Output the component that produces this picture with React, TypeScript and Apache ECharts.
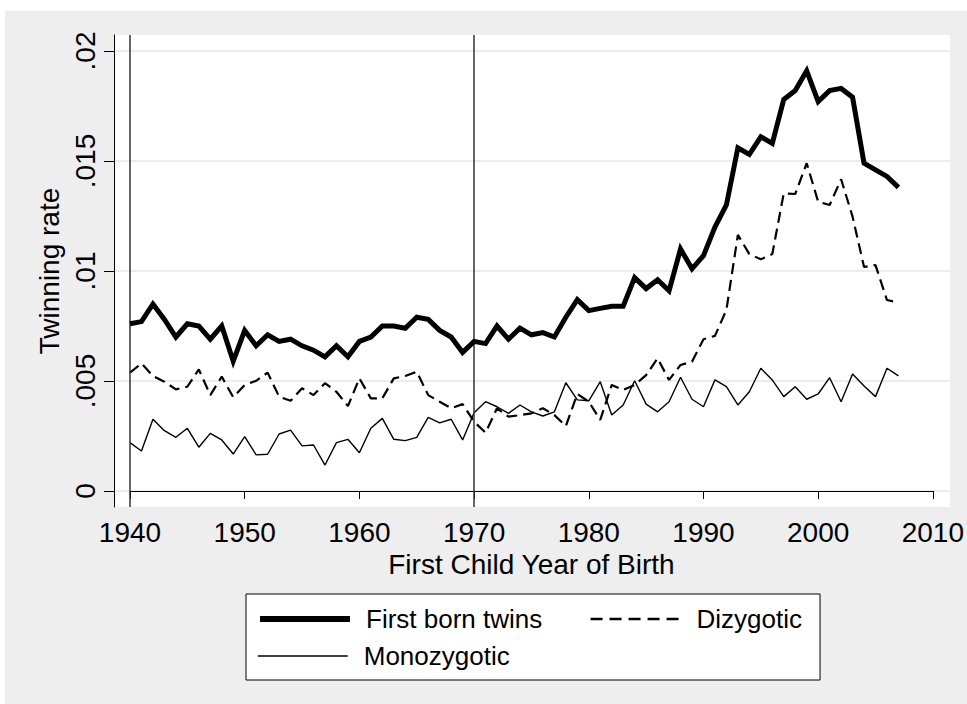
import React, { useEffect, useRef } from "react";
import * as echarts from "echarts";

const years = [
  1940, 1941, 1942, 1943, 1944, 1945, 1946, 1947, 1948, 1949,
  1950, 1951, 1952, 1953, 1954, 1955, 1956, 1957, 1958, 1959,
  1960, 1961, 1962, 1963, 1964, 1965, 1966, 1967, 1968, 1969,
  1970, 1971, 1972, 1973, 1974, 1975, 1976, 1977, 1978, 1979,
  1980, 1981, 1982, 1983, 1984, 1985, 1986, 1987, 1988, 1989,
  1990, 1991, 1992, 1993, 1994, 1995, 1996, 1997, 1998, 1999,
  2000, 2001, 2002, 2003, 2004, 2005, 2006, 2007,
];

const firstBorn = [
  0.0076, 0.0077, 0.0085, 0.0078, 0.007, 0.0076, 0.0075, 0.0069, 0.0075, 0.0059,
  0.0073, 0.0066, 0.0071, 0.0068, 0.0069, 0.0066, 0.0064, 0.0061, 0.0066, 0.0061,
  0.0068, 0.007, 0.0075, 0.0075, 0.0074, 0.0079, 0.0078, 0.0073, 0.007, 0.0063,
  0.0068, 0.0067, 0.0075, 0.0069, 0.0074, 0.0071, 0.0072, 0.007, 0.0079, 0.0087,
  0.0082, 0.0083, 0.0084, 0.0084, 0.0097, 0.0092, 0.0096, 0.0091, 0.011, 0.0101,
  0.0107, 0.012, 0.013, 0.0156, 0.0153, 0.0161, 0.0158, 0.0178, 0.0182, 0.0191,
  0.0177, 0.0182, 0.0183, 0.0179, 0.0149, 0.0146, 0.0143, 0.0138,
];

const dizygotic = [
  0.00538, 0.0058, 0.00523, 0.00497, 0.00462, 0.00474, 0.00553, 0.00436, 0.0052, 0.00426,
  0.00482, 0.00501, 0.00538, 0.00429, 0.0041, 0.00467, 0.00436, 0.0049, 0.00451, 0.00386,
  0.00512, 0.00421, 0.00421, 0.00512, 0.00523, 0.00542, 0.00436, 0.00406, 0.00376, 0.00395,
  0.00315, 0.00265, 0.00376, 0.00338, 0.00345, 0.00353, 0.00376, 0.00345, 0.00295, 0.00441,
  0.00406, 0.00323, 0.00482, 0.00459, 0.00482, 0.00527, 0.00603, 0.00505, 0.00573, 0.00588,
  0.0069, 0.00705, 0.00823, 0.01164, 0.01077, 0.01053, 0.01077, 0.01353, 0.0135, 0.0149,
  0.01315, 0.013, 0.01417, 0.01247, 0.01018, 0.01027, 0.00868, 0.00856,
];

const monozygotic = [
  0.0022, 0.00182, 0.00326, 0.00274, 0.00244, 0.00285, 0.00199, 0.00262, 0.00232, 0.00168,
  0.00247, 0.00164, 0.00167, 0.00259, 0.00277, 0.00205, 0.00209, 0.00118, 0.0022, 0.00235,
  0.00174, 0.00285, 0.0033, 0.00235, 0.00229, 0.00244, 0.00335, 0.0031, 0.00326, 0.00232,
  0.00356, 0.00406, 0.00383, 0.00353, 0.00391, 0.0036, 0.00341, 0.0036, 0.00492, 0.00414,
  0.0041, 0.00497, 0.00345, 0.00391, 0.00501, 0.00395, 0.0036, 0.00406, 0.00517, 0.00417,
  0.00383, 0.00505, 0.00474, 0.00391, 0.00451, 0.00558, 0.00505, 0.00429, 0.00474, 0.00417,
  0.00441, 0.00515, 0.00406, 0.00532, 0.00477, 0.00429, 0.00558, 0.00523,
];

const seriesNames = ["First born twins", "Dizygotic", "Monozygotic"];
const referenceYears = [1940, 1970];
const xTitle = "First Child Year of Birth";
const yTitle = "Twinning rate";

const FONT = "'Liberation Sans', Helvetica, Arial, sans-serif";

export default function App() {
  const ref = useRef<HTMLDivElement>(null);

  useEffect(() => {
    if (!ref.current) return;
    const chart = echarts.init(ref.current, undefined, { renderer: "svg" });

    // pixel geometry of the data axis: 1940 -> x=130, 2010 -> x=933
    const pxPerYear = (933 - 130) / 70;
    const frameMin = 1940 - 16 / pxPerYear;
    const frameMax = 2010 + 17 / pxPerYear;

    const pairs = (vals: number[]) => years.map((y, i) => [y, vals[i]]);

    const fmtY = (v: number) => {
      const r = Number(v.toFixed(4));
      if (r === 0) return "0";
      return String(r).replace(/^0\./, ".");
    };

    const thickStyle = { color: "#000", width: 5, type: "solid" as any };
    const dashStyle = { color: "#000", width: 2.2, type: [11, 6] as any };
    const thinStyle = { color: "#000", width: 1.4, type: "solid" as any };

    const legendCommon = {
      orient: "horizontal",
      itemWidth: 90,
      itemHeight: 14,
      itemStyle: { color: "transparent", borderWidth: 0, opacity: 0 },
      textStyle: { fontSize: 26, color: "#000", fontFamily: FONT, padding: [0, 0, 0, 11] },
      selectedMode: false,
    };

    const option: any = {
      animation: false,
      backgroundColor: "transparent",
      textStyle: { fontFamily: FONT },
      grid: [
        { left: 114, right: 17, top: 35, bottom: 197, show: true, backgroundColor: "#ffffff", borderWidth: 0, z: 0 },
        { left: 114, right: 17, top: 51, bottom: 213, show: false, z: 1 },
        { left: 130, right: 34, top: 51, bottom: 213, show: false, z: 2 },
      ],
      xAxis: [
        { gridIndex: 0, type: "value", min: frameMin, max: frameMax, show: false },
        { gridIndex: 1, type: "value", min: 0, max: 1, show: false },
        {
          gridIndex: 2,
          type: "value",
          min: 1940,
          max: 2010,
          interval: 10,
          offset: 16,
          name: xTitle,
          nameLocation: "middle",
          nameGap: 43,
          nameTextStyle: { fontSize: 28, color: "#000", fontFamily: FONT },
          axisLine: { show: true, lineStyle: { color: "#000", width: 1 } },
          axisTick: { show: true, length: 8, lineStyle: { color: "#000", width: 1 } },
          axisLabel: { fontSize: 28, color: "#000", margin: 11, fontFamily: FONT, formatter: (v: number) => String(v) },
          splitLine: { show: false },
        },
      ],
      yAxis: [
        {
          gridIndex: 0,
          type: "value",
          min: 0,
          max: 1,
          axisLine: { show: true, lineStyle: { color: "#000", width: 1 } },
          axisTick: { show: false },
          axisLabel: { show: false },
          splitLine: { show: false },
        },
        {
          gridIndex: 1,
          type: "value",
          min: 0,
          max: 0.02,
          interval: 0.005,
          axisLine: { show: false },
          axisTick: { show: false },
          axisLabel: { show: false },
          splitLine: { show: true, lineStyle: { color: "#e6e6e6", width: 1.5 } },
        },
        {
          gridIndex: 2,
          type: "value",
          min: 0,
          max: 0.02,
          interval: 0.005,
          offset: 16,
          name: yTitle,
          nameLocation: "middle",
          nameRotate: 90,
          nameGap: 46,
          nameTextStyle: { fontSize: 28, color: "#000", fontFamily: FONT },
          axisLine: { show: false },
          axisTick: { show: true, length: 10, lineStyle: { color: "#000", width: 1 } },
          axisLabel: { fontSize: 28, color: "#000", rotate: 90, margin: 15, formatter: fmtY, fontFamily: FONT },
          splitLine: { show: false },
        },
      ],
      legend: [
        {
          ...legendCommon,
          data: [
            { name: seriesNames[0], lineStyle: { ...thickStyle, width: 6 } },
            { name: seriesNames[1], lineStyle: { ...dashStyle, width: 2.6, type: [12, 7] } },
          ],
          left: 246,
          top: 594,
          padding: [12, 18, 48, 11],
          itemGap: 47,
          backgroundColor: "#ffffff",
          borderColor: "#000",
          borderWidth: 1,
          borderRadius: 0,
        },
        {
          ...legendCommon,
          data: [{ name: seriesNames[2], lineStyle: { ...thinStyle, width: 1.5 } }],
          left: 246,
          top: 643,
          padding: [0, 0, 0, 11],
          z: 5,
        },
      ],
      series: [
        {
          name: "refLines",
          type: "line",
          xAxisIndex: 0,
          yAxisIndex: 0,
          data: [],
          silent: true,
          markLine: {
            silent: true,
            symbol: "none",
            label: { show: false },
            lineStyle: { color: "#333333", width: 1.5, type: "solid" },
            data: referenceYears.map((y) => ({ xAxis: y })),
          },
        },
        {
          name: seriesNames[2],
          type: "line",
          xAxisIndex: 2,
          yAxisIndex: 2,
          data: pairs(monozygotic),
          symbol: "none",
          lineStyle: thinStyle,
          itemStyle: { color: "#000" },
          z: 3,
        },
        {
          name: seriesNames[1],
          type: "line",
          xAxisIndex: 2,
          yAxisIndex: 2,
          data: pairs(dizygotic),
          symbol: "none",
          lineStyle: dashStyle,
          itemStyle: { color: "#000" },
          z: 4,
        },
        {
          name: seriesNames[0],
          type: "line",
          xAxisIndex: 2,
          yAxisIndex: 2,
          data: pairs(firstBorn),
          symbol: "none",
          lineStyle: { ...thickStyle, join: "miter" },
          itemStyle: { color: "#000" },
          z: 5,
        },
      ],
    };

    chart.setOption(option);
    return () => chart.dispose();
  }, []);

  return (
    <div style={{ position: "fixed", left: 0, top: 0, width: 967, height: 704, background: "#ffffff" }}>
      <div style={{ position: "absolute", left: 5, top: 11, right: 0, bottom: 0, background: "#eeeeee" }} />
      <div ref={ref} style={{ position: "absolute", left: 0, top: 0, width: 967, height: 704 }} />
    </div>
  );
}
